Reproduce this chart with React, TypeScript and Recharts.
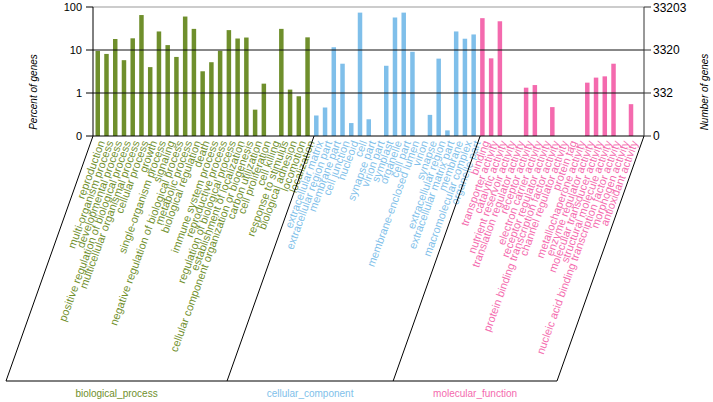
import React from "react";
import {
  BarChart,
  Bar,
  XAxis,
  YAxis,
  Cell,
  ReferenceLine,
} from "recharts";

const BP_TERMS = [
  "reproduction",
  "multi-organism process",
  "developmental process",
  "positive regulation of biological process",
  "multicellular organismal process",
  "cellular process",
  "growth",
  "single-organism process",
  "signaling",
  "negative regulation of biological process",
  "metabolic process",
  "biological regulation",
  "death",
  "immune system process",
  "reproductive process",
  "regulation of biological process",
  "establishment of localization",
  "cellular component organization or biogenesis",
  "carbon utilization",
  "cell proliferation",
  "cell killing",
  "response to stimulus",
  "biological adhesion",
  "locomotion",
  "localization",
];
const BP_PCT = [
  9.5, 8.1, 18, 5.8, 18.7, 65, 4.0, 27, 13, 6.9, 60, 31, 3.2, 5.2, 9.6, 29,
  18.5, 19.5, 0.41, 1.65, 0, 31, 1.2, 0.84, 19.7,
];

const CC_TERMS = [
  "extracellular matrix",
  "extracellular region part",
  "membrane part",
  "cell junction",
  "nucleoid",
  "cell",
  "synapse part",
  "virion part",
  "symplast",
  "organelle",
  "cell part",
  "membrane-enclosed lumen",
  "virion",
  "synapse",
  "extracellular region",
  "extracellular matrix part",
  "membrane",
  "macromolecular complex",
  "organelle part",
];
const CC_PCT = [
  0.3, 0.46, 11.6, 4.8, 0.2, 74, 0.245, 0, 4.3, 57, 74, 9.1, 0, 0.31, 6.3,
  0.135, 27, 18.3, 23,
];

const MF_TERMS = [
  "binding",
  "transporter activity",
  "catalytic activity",
  "nutrient reservoir activity",
  "translation regulator activity",
  "receptor activity",
  "electron carrier activity",
  "receptor regulator activity",
  "protein binding transcription factor activity",
  "channel regulator activity",
  "protein tag",
  "metallochaperone activity",
  "enzyme regulator activity",
  "molecular transducer activity",
  "structural molecule activity",
  "nucleic acid binding transcription factor activity",
  "morphogen activity",
  "antioxidant activity",
];
const MF_PCT = [
  55, 6.4, 46.6, 0, 0, 1.33, 1.53, 0, 0.47, 0, 0, 0, 1.74, 2.28, 2.44, 4.8, 0,
  0.55,
];

const GROUPS = ["biological_process", "cellular_component", "molecular_function"];
const GROUP_COLORS = ["#6f8f2c", "#7fbfea", "#f46aae"];
const TOTAL_GENES = 33203;
const TICKS = [0.1, 1, 10, 100];

const W = 713;
const H = 402;
const PLOT_LEFT = 93;
const PLOT_RIGHT = 644;
const PLOT_TOP = 7;
const PLOT_BOTTOM = 136;
const PAD_L = 2.5;
const PAD_R = 6.5;
const FRAME_BOTTOM = 381;
const SLANT = 87;

const data = [
  ...BP_TERMS.map((t, i) => ({ term: t, pct: BP_PCT[i] || null, g: 0 })),
  ...CC_TERMS.map((t, i) => ({ term: t, pct: CC_PCT[i] || null, g: 1 })),
  ...MF_TERMS.map((t, i) => ({ term: t, pct: MF_PCT[i] || null, g: 2 })),
];

const FONT = "'Liberation Sans', Arial, sans-serif";

function TermTick(props: any) {
  const { x, y, payload, index } = props;
  const g = data[index] ? data[index].g : 0;
  const ax = x + 1.5;
  const ay = y + 5;
  return (
    <text
      x={ax}
      y={ay}
      dy="0.35em"
      textAnchor="end"
      transform={`rotate(-70, ${ax}, ${ay})`}
      fill={GROUP_COLORS[g]}
      fontSize={11}
      fontFamily={FONT}
    >
      {payload.value}
    </text>
  );
}

function Frame() {
  const band = (PLOT_RIGHT - PLOT_LEFT - PAD_L - PAD_R) / data.length;
  const b1 = PLOT_LEFT + PAD_L + BP_TERMS.length * band;
  const b2 = b1 + CC_TERMS.length * band;
  const tops = [PLOT_LEFT, b1, b2, PLOT_RIGHT];
  return (
    <svg
      width={W}
      height={H}
      style={{ position: "absolute", left: 0, top: 0, pointerEvents: "none" }}
    >
      {tops.map((t) => (
        <line
          key={t}
          x1={t}
          y1={PLOT_BOTTOM}
          x2={t - SLANT}
          y2={FRAME_BOTTOM}
          stroke="#000"
          strokeWidth={1}
        />
      ))}
      <line
        x1={PLOT_LEFT - SLANT}
        y1={FRAME_BOTTOM}
        x2={PLOT_RIGHT - SLANT}
        y2={FRAME_BOTTOM}
        stroke="#000"
        strokeWidth={1}
      />
      {GROUPS.map((name, i) => (
        <text
          key={name}
          x={(tops[i] + tops[i + 1]) / 2 - SLANT}
          y={397}
          textAnchor="middle"
          fontSize={10}
          fontFamily={FONT}
          fill={GROUP_COLORS[i]}
        >
          {name}
        </text>
      ))}
      <text
        transform="translate(37, 92) rotate(-90)"
        textAnchor="middle"
        fontSize={10}
        fontStyle="italic"
        fontFamily={FONT}
        fill="#000"
      >
        Percent of genes
      </text>
      <text
        transform="translate(708, 92) rotate(-90)"
        textAnchor="middle"
        fontSize={10}
        fontStyle="italic"
        fontFamily={FONT}
        fill="#000"
      >
        Number of genes
      </text>
    </svg>
  );
}

export default function App() {
  return (
    <div
      style={{
        position: "absolute",
        left: 0,
        top: 0,
        width: W,
        height: H,
        background: "#fff",
      }}
    >
      <BarChart
        width={W}
        height={H}
        data={data}
        margin={{ top: PLOT_TOP, right: 0, left: 0, bottom: 0 }}
      >
        <XAxis
          dataKey="term"
          interval={0}
          height={H - PLOT_BOTTOM}
          tick={<TermTick />}
          tickLine={false}
          tickSize={0}
          tickMargin={0}
          axisLine={{ stroke: "#000" }}
          padding={{ left: PAD_L, right: PAD_R }}
        />
        <YAxis
          yAxisId="left"
          scale="log"
          domain={[0.1, 100]}
          allowDataOverflow
          ticks={TICKS}
          width={PLOT_LEFT}
          tickSize={7}
          tickMargin={4}
          tickLine={{ stroke: "#000" }}
          axisLine={{ stroke: "#000" }}
          tick={{ fill: "#000", fontSize: 11, fontFamily: FONT }}
          tickFormatter={(v: number) => (v < 1 ? "0" : String(v))}
        />
        <YAxis
          yAxisId="right"
          orientation="right"
          scale="log"
          domain={[0.1, 100]}
          allowDataOverflow
          ticks={TICKS}
          width={W - PLOT_RIGHT}
          tickSize={7}
          tickMargin={2}
          tickLine={{ stroke: "#333" }}
          axisLine={{ stroke: "#333" }}
          tick={{ fill: "#000", fontSize: 12, fontFamily: FONT }}
          tickFormatter={(v: number) =>
            v < 1 ? "0" : String(Math.round((TOTAL_GENES * v) / 100))
          }
        />
        <ReferenceLine yAxisId="left" y={100} stroke="#999" />
        <ReferenceLine yAxisId="left" y={10} stroke="#111" />
        <ReferenceLine yAxisId="left" y={1} stroke="#111" />
        <Bar
          yAxisId="left"
          dataKey="pct"
          barSize={4.5}
          isAnimationActive={false}
        >
          {data.map((d, i) => (
            <Cell key={i} fill={GROUP_COLORS[d.g]} />
          ))}
        </Bar>
        <Bar
          yAxisId="right"
          dataKey="none"
          barSize={0}
          isAnimationActive={false}
        />
      </BarChart>
      <Frame />
    </div>
  );
}
